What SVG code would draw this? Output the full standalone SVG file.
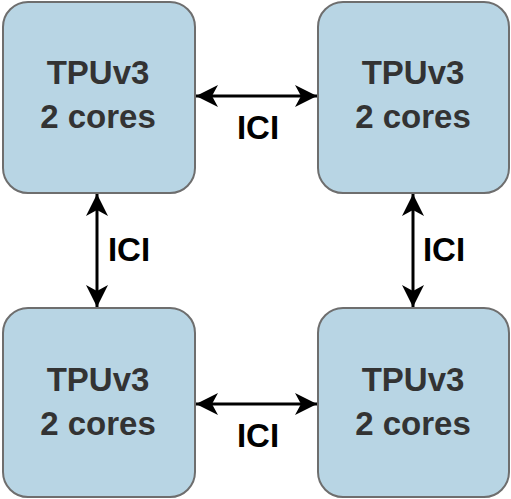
<svg xmlns="http://www.w3.org/2000/svg" width="511" height="499" viewBox="0 0 511 499">
<style>
.box{fill:#b8d5e4;stroke:#6e6e6e;stroke-width:2}
.t{font-family:"Liberation Sans",Arial,sans-serif;font-weight:bold;font-size:33px;fill:#333333;text-anchor:middle}
.l{font-family:"Liberation Sans",Arial,sans-serif;font-weight:bold;font-size:33px;fill:#000000;text-anchor:middle}
.c{stroke:#000;stroke-width:3;fill:none}
</style>
<defs>
<marker id="a" markerUnits="userSpaceOnUse" viewBox="-22 -12 23 24" refX="0" refY="0" markerWidth="23" markerHeight="24" orient="auto-start-reverse">
<path d="M0,0 L-22,-11 L-16,0 L-22,11 Z" fill="#000"/>
</marker>
</defs>
<g id="connectors">
<line class="c" x1="196" y1="96" x2="317" y2="96" marker-start="url(#a)" marker-end="url(#a)"/>
<line class="c" x1="196" y1="404" x2="317" y2="404" marker-start="url(#a)" marker-end="url(#a)"/>
<line class="c" x1="97" y1="194" x2="97" y2="307" marker-start="url(#a)" marker-end="url(#a)"/>
<line class="c" x1="413" y1="194" x2="413" y2="307" marker-start="url(#a)" marker-end="url(#a)"/>
<text class="l" x="258" y="139">ICI</text>
<text class="l" x="258" y="447">ICI</text>
<text class="l" x="129" y="261">ICI</text>
<text class="l" x="444" y="261">ICI</text>
</g>
<g id="tl"><rect class="box" x="3" y="2" width="192" height="191" rx="25"/><text class="t" x="98" y="84">TPUv3</text><text class="t" x="98" y="128">2 cores</text></g>
<g id="tr"><rect class="box" x="318" y="2" width="191" height="191" rx="25"/><text class="t" x="413" y="84">TPUv3</text><text class="t" x="413" y="128">2 cores</text></g>
<g id="bl"><rect class="box" x="3" y="308" width="192" height="189" rx="25"/><text class="t" x="98" y="391">TPUv3</text><text class="t" x="98" y="435">2 cores</text></g>
<g id="br"><rect class="box" x="318" y="308" width="191" height="189" rx="25"/><text class="t" x="413" y="391">TPUv3</text><text class="t" x="413" y="435">2 cores</text></g>
</svg>
